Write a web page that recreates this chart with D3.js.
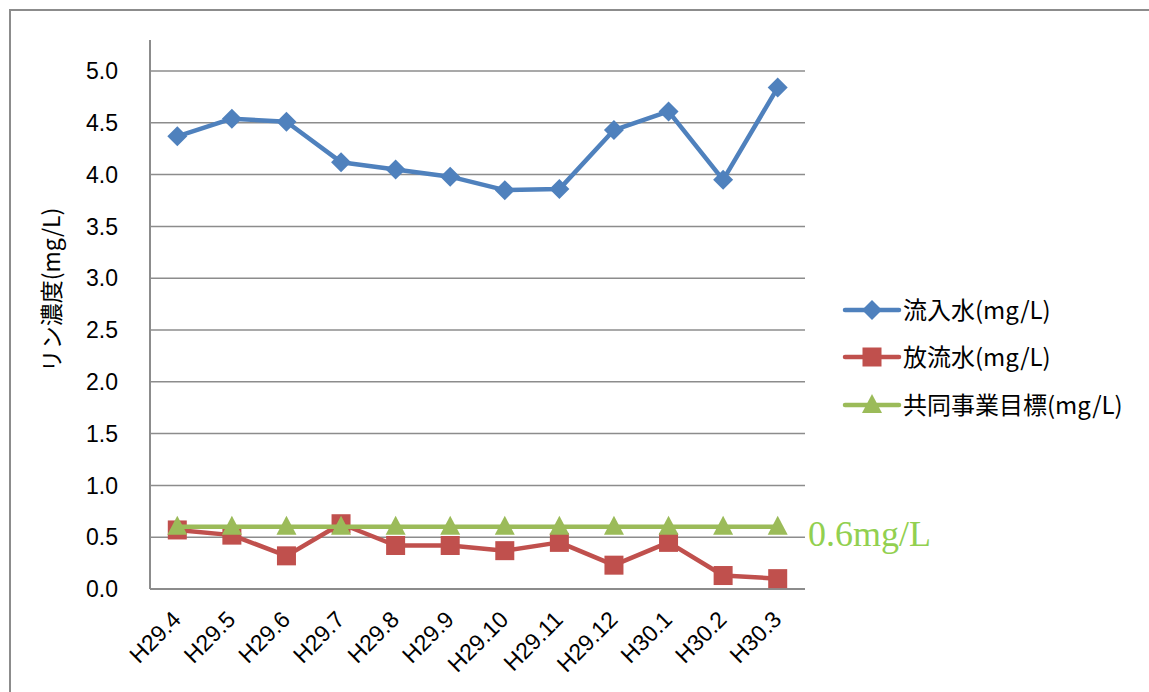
<!DOCTYPE html>
<html><head><meta charset="utf-8">
<script src="https://cdn.jsdelivr.net/npm/d3@7"></script>
<style>body{margin:0;background:#fff;}svg{display:block;}</style>
</head><body>
<svg id="c" width="1149" height="692"></svg>
<script>
const categories = ["H29.4","H29.5","H29.6","H29.7","H29.8","H29.9","H29.10","H29.11","H29.12","H30.1","H30.2","H30.3"];
const inflow = [4.37,4.54,4.51,4.12,4.05,3.98,3.85,3.86,4.43,4.61,3.95,4.84];
const effluent = [0.57,0.52,0.32,0.63,0.42,0.42,0.37,0.45,0.23,0.45,0.13,0.10];
const target = [0.6,0.6,0.6,0.6,0.6,0.6,0.6,0.6,0.6,0.6,0.6,0.6];
const yTicks = [0,0.5,1.0,1.5,2.0,2.5,3.0,3.5,4.0,4.5,5.0];
const seriesNames = ["流入水(mg/L)","放流水(mg/L)","共同事業目標(mg/L)"];
const yTitle = "リン濃度(mg/L)";
const targetLabel = "0.6mg/L";

const svg = d3.select("#c");
const font = "'Liberation Sans', Arial, sans-serif";
const cjk = "'Noto Sans CJK JP', sans-serif";
// outer frame
svg.append("rect").attr("x",10).attr("y",10).attr("width",1200).attr("height",800)
  .attr("fill","none").attr("stroke","#8c8c8c").attr("stroke-width",2);

const x = d3.scaleBand().domain(categories).range([150,805]);
const y = d3.scaleLinear().domain([0,5]).range([589,71]);
const cx = d => x(d)+x.bandwidth()/2;

// gridlines
svg.append("g").selectAll("line").data(yTicks).join("line")
  .attr("x1",150).attr("x2",805).attr("y1",d=>y(d)).attr("y2",d=>y(d))
  .attr("stroke","#8c8c8c").attr("stroke-width",1.5);
// axis lines
svg.append("line").attr("x1",150).attr("x2",150).attr("y1",40).attr("y2",y(0))
  .attr("stroke","#8c8c8c").attr("stroke-width",2);
svg.append("line").attr("x1",150).attr("x2",805).attr("y1",y(0)).attr("y2",y(0))
  .attr("stroke","#8c8c8c").attr("stroke-width",2);

// y tick labels
svg.append("g").selectAll("text").data(yTicks).join("text")
  .attr("x",118).attr("y",d=>y(d)).attr("dy","0.36em").attr("text-anchor","end")
  .attr("font-family",font).attr("font-size",23).attr("fill","#000")
  .text(d=>d3.format(".1f")(d));

// x labels
svg.append("g").selectAll("text").data(categories).join("text")
  .attr("transform",d=>`translate(${cx(d)+5},${621}) rotate(-45)`)
  .attr("text-anchor","end").attr("font-family",font).attr("font-size",23).attr("fill","#000")
  .text(d=>d);

// y title
svg.append("text").attr("transform","translate(60,290) rotate(-90)")
  .attr("text-anchor","middle").attr("font-family",cjk).attr("font-size",23)
  .text(yTitle);

const colors = ["#4F81BD","#C0504D","#9BBB59"];
const line = d3.line().x((d,i)=>cx(categories[i])).y(d=>y(d));

function marker(g, type, px, py, color){
  if(type===0){
    g.append("path").attr("d",`M${px},${py-10}L${px+10},${py}L${px},${py+10}L${px-10},${py}Z`).attr("fill",color);
  } else if(type===1){
    g.append("rect").attr("x",px-9.5).attr("y",py-9.5).attr("width",19).attr("height",19).attr("fill",color);
  } else {
    g.append("path").attr("d",`M${px},${py-11}L${px+10},${py+8}L${px-10},${py+8}Z`).attr("fill",color);
  }
}

const allSeries = [inflow, effluent, target];
[1,2,0].forEach(si=>{
  const data = allSeries[si];
  const g = svg.append("g");
  g.append("path").datum(data).attr("d",line).attr("fill","none")
    .attr("stroke",colors[si]).attr("stroke-width",4.5).attr("stroke-linejoin","round");
  data.forEach((v,i)=>marker(g, si, cx(categories[i]), y(v), colors[si]));
});

// target label
svg.append("text").attr("x",808).attr("y",546).attr("font-family","'Liberation Serif', 'DejaVu Serif', serif")
  .attr("font-size",36).attr("fill","#92D050").text(targetLabel);

// legend
const legY = [310,357,405];
seriesNames.forEach((n,i)=>{
  const g = svg.append("g");
  g.append("line").attr("x1",845).attr("x2",899).attr("y1",legY[i]).attr("y2",legY[i])
    .attr("stroke",colors[i]).attr("stroke-width",4.5).attr("stroke-linecap","round");
  marker(g, i, 872, legY[i], colors[i]);
  g.append("text").attr("x",903).attr("y",legY[i]).attr("dy","0.36em")
    .attr("font-family",cjk).attr("font-size",24).text(n);
});
</script>
</body></html>
